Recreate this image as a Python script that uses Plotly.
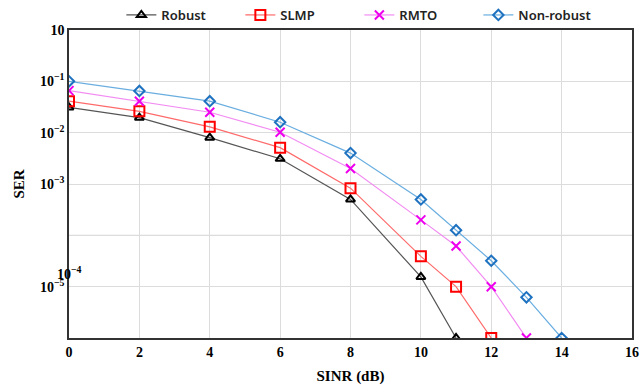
import plotly.graph_objects as go

x_robust = [0, 2, 4, 6, 8, 10, 11]
ser_robust = [0.031, 0.0196, 0.0080, 0.0031, 0.0005, 1.55e-5, 1e-6]

x_slmp = [0, 2, 4, 6, 8, 10, 11, 12]
ser_slmp = [0.041, 0.026, 0.013, 0.0051, 0.00083, 3.9e-5, 1e-5, 1e-6]

x_rmto = [0, 2, 4, 6, 8, 10, 11, 12, 13]
ser_rmto = [0.066, 0.041, 0.025, 0.0102, 0.002, 2.0e-4, 6.2e-5, 1e-5, 1e-6]

x_nonrobust = [0, 2, 4, 6, 8, 10, 11, 12, 13, 14]
ser_nonrobust = [0.1, 0.065, 0.041, 0.016, 0.004, 5e-4, 1.26e-4, 3.2e-5, 6.2e-6, 1e-6]

y_tickvals = [1, 0.1, 0.01, 0.001, 1e-5]
y_ticktext = ["10", "10<sup>−1</sup>", "10<sup>−2</sup>", "10<sup>−3</sup>", "10<sup>−5</sup>"]
x_tickvals = [0, 2, 4, 6, 8, 10, 12, 14, 16]

series = [
    ("Robust", x_robust, ser_robust, "#555555", "black", "triangle-up-open", 8),
    ("SLMP", x_slmp, ser_slmp, "#ff6a6a", "#ff0000", "square-open", 10),
    ("RMTO", x_rmto, ser_rmto, "#f28cf2", "#ee00ee", "x-thin-open", 9),
    ("Non-robust", x_nonrobust, ser_nonrobust, "#6aaee0", "#1f72c0", "diamond-open", 8),
]

fig = go.Figure()
for name, xs, ys, lc, mc, sym, ms in series:
    fig.add_trace(go.Scatter(
        x=xs, y=ys, name=name, mode="lines+markers",
        line=dict(color=lc, width=1.2),
        marker=dict(symbol=sym, size=ms, color=mc, line=dict(color=mc, width=2)),
    ))

tick_font = dict(family="Liberation Serif", size=14, color="black", weight="bold")

fig.update_layout(
    width=643, height=389,
    margin=dict(l=69, r=11, t=30, b=51, autoexpand=False),
    plot_bgcolor="white", paper_bgcolor="white",
    showlegend=True,
    legend=dict(orientation="h", x=0.093, y=1.0, yanchor="bottom", xanchor="left",
                font=dict(family="Noto Sans", size=13, color="#222", weight=600),
                entrywidth=74, entrywidthmode="pixels", bgcolor="rgba(0,0,0,0)",
                tracegroupgap=0),
    xaxis=dict(range=[0, 16], tickvals=x_tickvals, showgrid=True, gridcolor="#dcdcdc",
               gridwidth=1.3, showline=True, linecolor="#333", linewidth=1.5, mirror=True,
               zeroline=False, ticks="", tickfont=tick_font, automargin=False,
               title=dict(text="SINR (dB)", font=dict(family="Liberation Serif", size=15,
                                                       color="black", weight="bold"), standoff=12)),
    yaxis=dict(type="log", range=[-6, 0], tickvals=y_tickvals, ticktext=y_ticktext,
               showgrid=True, gridcolor="#dcdcdc", gridwidth=1.3,
               showline=True, linecolor="#333", linewidth=1.5, mirror=True,
               zeroline=False, ticks="", tickfont=tick_font, automargin=False,
               title=dict(text="SER", font=dict(family="Liberation Serif", size=15,
                                                 color="black", weight="bold"), standoff=12)),
)

fig.add_shape(type="line", xref="paper", x0=0, x1=1, yref="y", y0=1e-4, y1=1e-4,
              line=dict(color="#dcdcdc", width=1.3), layer="below")

fig.add_annotation(text="10<sup>−4</sup>", xref="paper", x=0.0, xanchor="center",
                   yref="y", y=-4.74, yanchor="middle", showarrow=False,
                   font=tick_font)

fig.write_html("out.html")
